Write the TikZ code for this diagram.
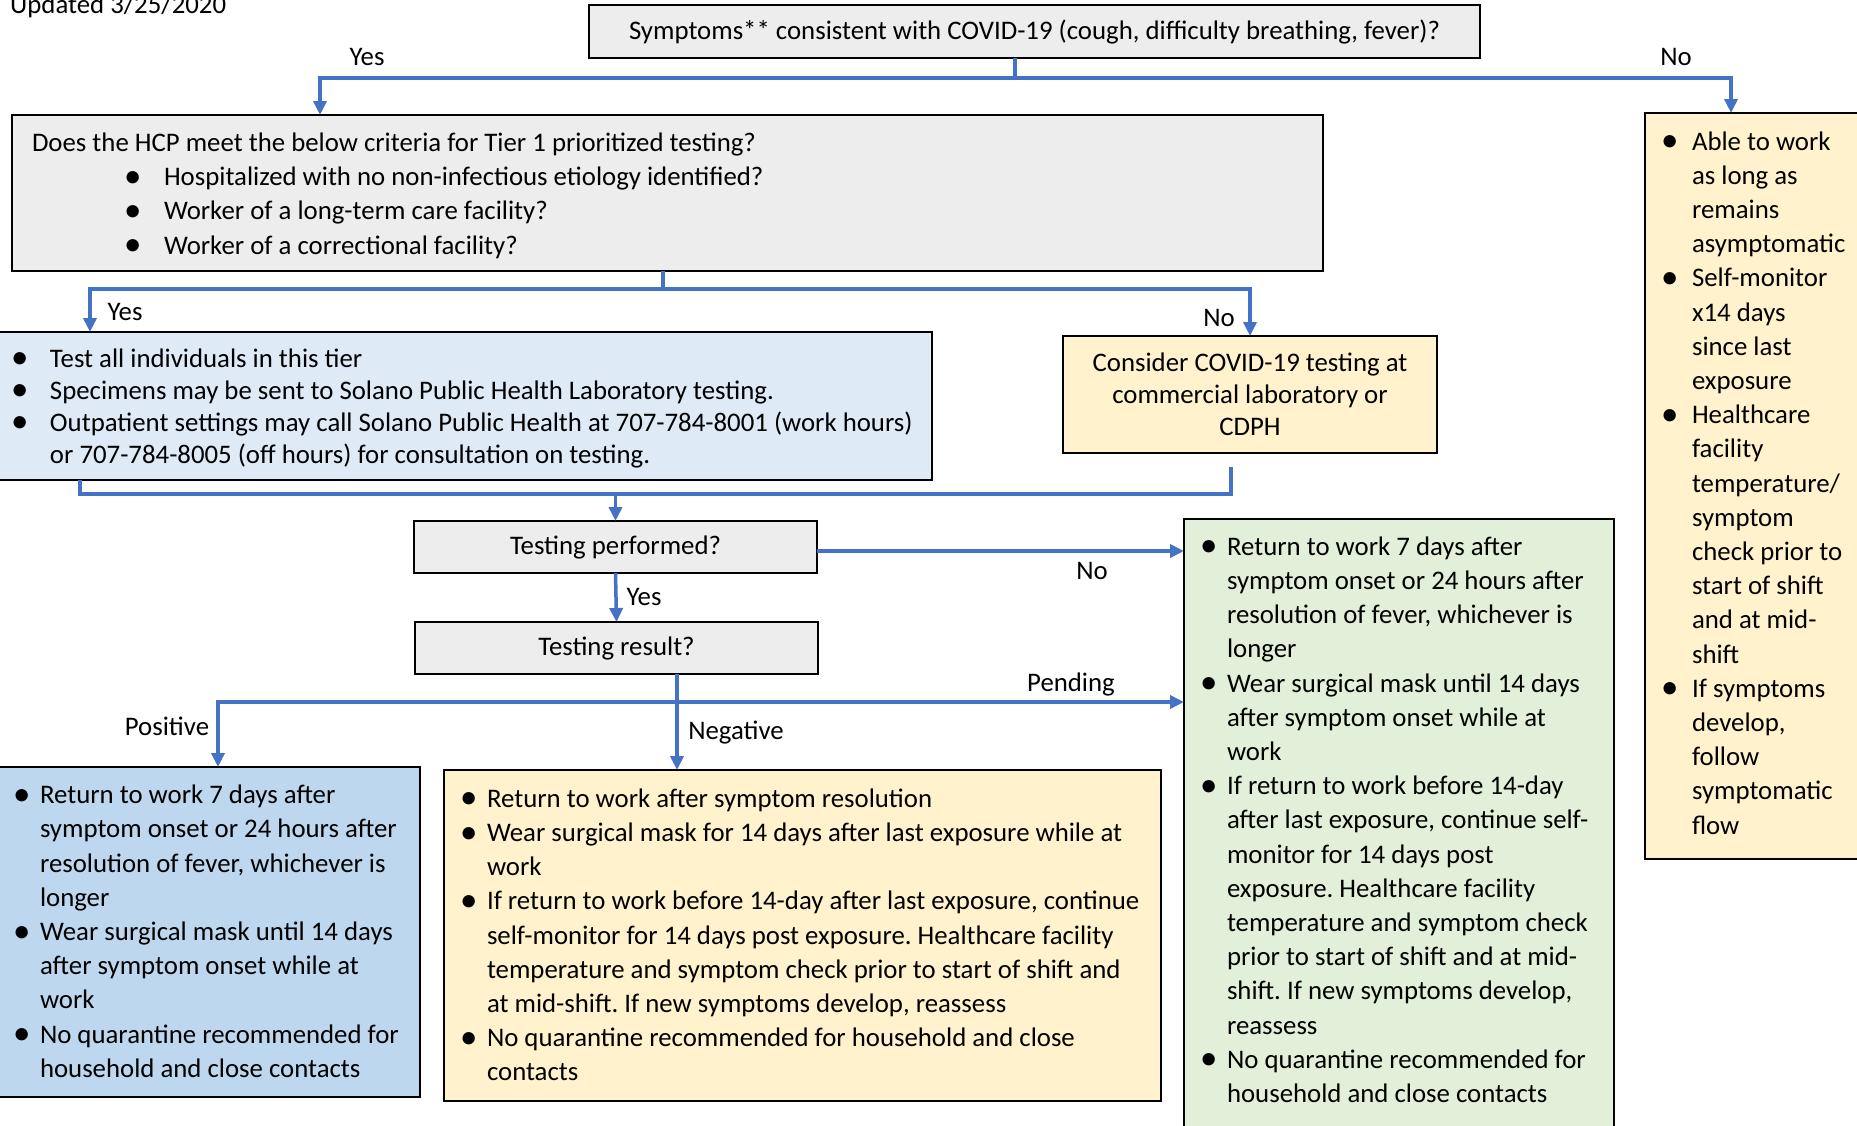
\documentclass[tikz,border=0pt]{standalone}
\usepackage{fontspec}
\setmainfont{Carlito}
\usetikzlibrary{arrows.meta,calc}
\definecolor{conn}{HTML}{4472C4}
\definecolor{grayfill}{HTML}{EDEDED}
\definecolor{lblue}{HTML}{DEEBF7}
\definecolor{mblue}{HTML}{BDD7EE}
\definecolor{lyellow}{HTML}{FFF2CC}
\definecolor{lgreen}{HTML}{E2F0D9}
\frenchspacing
\newlength\hangw
\newcommand\nl{\hfil\break}
\newcommand\fixsp{\spaceskip=0.226em\relax\xspaceskip=0.226em\relax}
\newcommand\bulmark{\raisebox{-1.5pt}{\scalebox{1.3}{\textbullet}}}
\newcommand\bul[1]{\noindent\hangindent=\hangw\hangafter=1\makebox[\hangw][l]{\bulmark}\strut#1\par}
\tikzset{
  box/.style={draw=black, line width=1.8pt, inner sep=0pt, outer sep=0pt},
  txt/.style={inner sep=0pt, outer sep=0pt, anchor=north west, font=\fontsize{26.8}{34.2}\selectfont},
  lab/.style={inner sep=0pt, font=\fontsize{26.8}{32}\selectfont},
  conn/.style={draw=conn, line width=3.5pt},
  arr/.style={conn, -{Triangle[length=14pt,width=13pt]}},
  arr2/.style={conn, {Triangle[length=14pt,width=13pt]}-{Triangle[length=14pt,width=13pt]}}
}
\begin{document}
\begin{tikzpicture}[x=1pt,y=-1pt]
\useasboundingbox[fill=white] (0,0) rectangle (1857,1125);

% boxes
\node[box, fill=grayfill, minimum width=891, minimum height=53, font=\fontsize{26.8}{32}\selectfont] (sym) at (1034.5,31.5) {Symptoms** consistent with COVID-19 (cough, difficulty breathing, fever)?};
\node[box, fill=grayfill, minimum width=1311, minimum height=156, anchor=north west] (hcp) at (12,115) {};
\node[box, fill=lyellow, minimum width=230, minimum height=746, anchor=north west] (ry) at (1645,113) {};
\node[box, fill=lblue, minimum width=933, minimum height=148, anchor=north west] (tier1) at (-1,332) {};
\node[box, fill=lyellow, minimum width=374, minimum height=117, align=center, font=\fontsize{26.8}{32}\selectfont] (cons) at (1250,394.5) {Consider COVID-19 testing at\\commercial laboratory or\\CDPH};
\node[box, fill=grayfill, minimum width=403, minimum height=52, font=\fontsize{26.8}{32}\selectfont] (tp) at (615.5,547) {Testing performed?};
\node[box, fill=grayfill, minimum width=403, minimum height=52, font=\fontsize{26.8}{32}\selectfont] (tr) at (616.5,648) {Testing result?};
\node[box, fill=lgreen, minimum width=430, minimum height=630, anchor=north west] (green) at (1184,519) {};
\node[box, fill=mblue, minimum width=421, minimum height=330, anchor=north west] (pos) at (-1,767) {};
\node[box, fill=lyellow, minimum width=717, minimum height=331, anchor=north west] (neg) at (444,770) {};

% texts
\node[lab, anchor=base west] (upd) at (10,13) {Updated 3/25/2020};

\node[txt, text width=1290pt] (hcpt) at (32,127.6) {\fixsp\strut Does the HCP meet the below criteria for Tier 1 prioritized testing?\nl
\hspace*{92pt}\makebox[40pt][l]{\bulmark}Hospitalized with no non-infectious etiology identified?\nl
\hspace*{92pt}\makebox[40pt][l]{\bulmark}Worker of a long-term care facility?\nl
\hspace*{92pt}\makebox[40pt][l]{\bulmark}Worker of a correctional facility?\par};

\node[txt, text width=300pt] (ryt) at (1661,126.2) {\fixsp\setlength\hangw{31pt}%
\bul{Able to work\nl as long as\nl remains\nl asymptomatic}%
\bul{Self-monitor\nl x14 days\nl since last\nl exposure}%
\bul{Healthcare\nl facility\nl temperature/\nl symptom\nl check prior to\nl start of shift\nl and at mid-\nl shift}%
\bul{If symptoms\nl develop,\nl follow\nl symptomatic\nl flow}};

\node[txt, text width=1000pt, font=\fontsize{26.8}{32}\selectfont] (tier1t) at (11,345) {\fixsp\setlength\hangw{39pt}%
\bul{Test all individuals in this tier}%
\bul{Specimens may be sent to Solano Public Health Laboratory testing.}%
\bul{Outpatient settings may call Solano Public Health at 707-784-8001 (work hours)\nl or 707-784-8005 (off hours) for consultation on testing.}};

\node[txt, text width=450pt] (greent) at (1200,531.4) {\fixsp\setlength\hangw{27pt}%
\bul{Return to work 7 days after\nl symptom onset or 24 hours after\nl resolution of fever, whichever is\nl longer}%
\bul{Wear surgical mask until 14 days\nl after symptom onset while at\nl work}%
\bul{If return to work before 14-day\nl after last exposure, continue self-\nl monitor for 14 days post\nl exposure. Healthcare facility\nl temperature and symptom check\nl prior to start of shift and at mid-\nl shift. If new symptoms develop,\nl reassess}%
\bul{No quarantine recommended for\nl household and close contacts}};

\node[txt, text width=450pt] (post) at (13,779.8) {\fixsp\setlength\hangw{27pt}%
\bul{Return to work 7 days after\nl symptom onset or 24 hours after\nl resolution of fever, whichever is\nl longer}%
\bul{Wear surgical mask until 14 days\nl after symptom onset while at\nl work}%
\bul{No quarantine recommended for\nl household and close contacts}};

\node[txt, text width=760pt] (negt) at (460,783.4) {\fixsp\setlength\hangw{27pt}%
\bul{Return to work after symptom resolution}%
\bul{Wear surgical mask for 14 days after last exposure while at\nl work}%
\bul{If return to work before 14-day after last exposure, continue\nl self-monitor for 14 days post exposure. Healthcare facility\nl temperature and symptom check prior to start of shift and\nl at mid-shift. If new symptoms develop, reassess}%
\bul{No quarantine recommended for household and close\nl contacts}};

% connector coordinates
\coordinate (s1) at (1015,78);
\coordinate (cY) at (320,78);
\coordinate (cN) at (1731,78);
\coordinate (s2) at (663,289);
\coordinate (tY) at (90,289);
\coordinate (m1) at (80,494);
\coordinate (m2) at (1231,494);
\coordinate (m3) at (1231,467);
\coordinate (n1) at (0,551);
\coordinate (r0) at (218,702);
\coordinate (rs) at (677,702);

% connectors
\draw[conn] (sym.south -| s1) -- (s1);
\draw[arr2] (cY |- hcp.north) -- (cY) -- (cN) -- (cN |- ry.north);
\draw[conn] (hcp.south -| s2) -- (s2);
\draw[arr2] (tY |- tier1.north) -- (tY) -- (cons.north |- s2) -- (cons.north);
\draw[conn] (tier1.south -| m1) -- (m1) -- (m2) -- (m3);
\draw[arr] (tp.north |- m1) -- (tp.north);
\draw[arr] (n1 -| tp.east) -- (n1 -| green.west);
\draw[arr] (tp.south) -- (tr.north);
\draw[arr2] (r0 |- pos.north) -- (r0) -- (r0 -| green.west);
\draw[arr] (tr.south -| rs) -- (neg.north -| rs);

% labels
\node[lab] (lyes1) at (367,57) {Yes};
\node[lab] (lno1) at (1676,57) {No};
\node[lab] (lyes2) at (125,312) {Yes};
\node[lab] (lno2) at (1219,318) {No};
\node[lab] (lno3) at (1092,571) {No};
\node[lab] (lyes3) at (644,597) {Yes};
\node[lab] (lpos) at (167,726) {Positive};
\node[lab] (lpend) at (1071,684) {Pending};
\node[lab] (lneg) at (736,733) {Negative};
\end{tikzpicture}
\end{document}
